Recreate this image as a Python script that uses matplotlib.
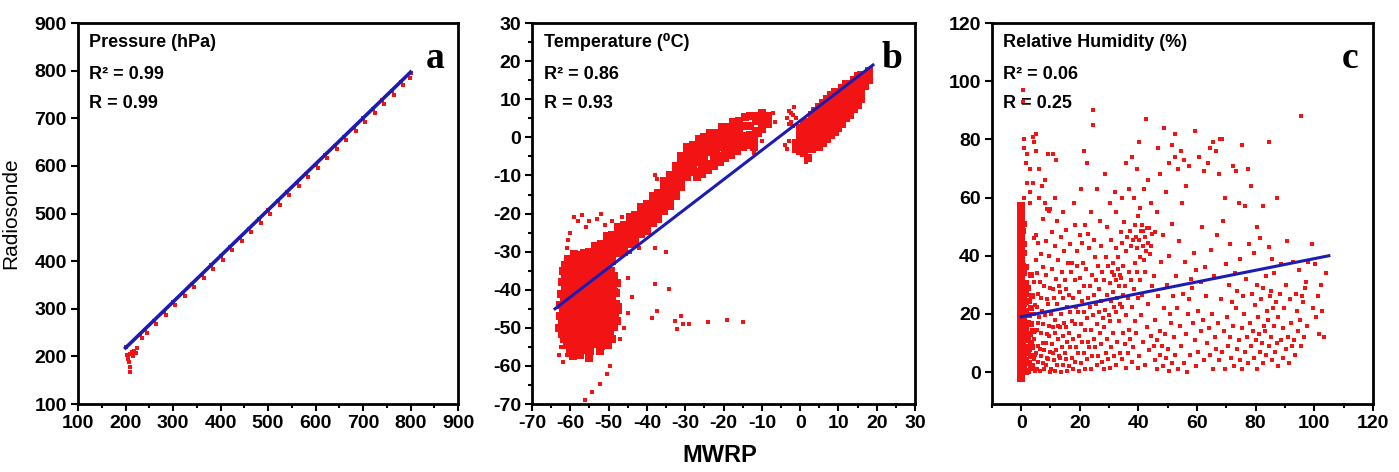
import numpy as np
import matplotlib
matplotlib.use("Agg")
import matplotlib.pyplot as plt
from matplotlib.ticker import MultipleLocator

plt.rcParams['font.family'] = ['Liberation Sans', 'DejaVu Sans']
plt.rcParams['font.weight'] = 'bold'
plt.rcParams['axes.unicode_minus'] = False

# ---- panel a: pressure (hPa), MWRP vs radiosonde
press_pts = [(200, 220), (203, 203), (205, 195), (207, 188), (209, 168), (210, 178),
             (206, 200), (210, 205), (213, 210), (216, 200), (218, 212), (222, 208),
             (225, 217), (230, 246), (235, 238),
             (240, 256), (245, 249), (260, 275), (265, 269), (280, 294), (285, 288),
             (300, 314), (305, 307), (320, 333), (325, 326), (340, 352), (345, 345),
             (360, 372), (365, 365), (380, 391), (385, 384), (400, 410), (405, 403),
             (420, 430), (425, 423), (440, 449), (445, 442), (460, 468), (465, 461),
             (480, 488), (485, 481), (500, 507), (505, 500), (520, 526), (525, 519),
             (540, 546), (545, 538), (560, 565), (565, 558), (580, 584), (585, 577),
             (600, 603), (605, 596), (620, 623), (625, 616), (640, 642), (645, 635),
             (660, 661), (665, 654), (680, 680), (685, 673), (700, 700), (705, 693),
             (720, 719), (725, 712), (740, 738), (745, 731), (760, 758), (765, 750),
             (780, 777), (785, 770), (800, 795), (798, 785)]
press_fit_x = [200, 800]
press_fit_y = [218, 797]

# ---- panel b: temperature (deg C)
temp_blob = [(-59, -30.5), (-57.2, -30.8), (-55.4, -30.3), (-53.6, -30.6),
             (-60.5, -32), (-58.7, -32.4), (-56.9, -31.8), (-55.1, -32.2), (-53.3, -32), (-51.5, -31.7),
             (-61.4, -33.5), (-59.6, -33.2), (-57.8, -33.8), (-56, -33.4), (-54.2, -33.6), (-52.4, -33.3), (-50.6, -33.7),
             (-62, -35), (-60.2, -35.3), (-58.4, -34.8), (-56.6, -35.2), (-54.8, -35), (-53, -34.7), (-51.2, -35.3), (-49.4, -35),
             (-61.3, -36.5), (-59.5, -36.8), (-57.7, -36.3), (-55.9, -36.6), (-54.1, -36.4), (-52.3, -36.8), (-50.5, -36.5), (-48.7, -36.3),
             (-62.2, -38), (-60.4, -37.7), (-58.6, -38.3), (-56.8, -38), (-55, -37.8), (-53.2, -38.2), (-51.4, -38), (-49.6, -37.7), (-47.8, -38.2),
             (-61.5, -39.5), (-59.7, -39.8), (-57.9, -39.3), (-56.1, -39.6), (-54.3, -39.5), (-52.5, -39.2), (-50.7, -39.7), (-48.9, -39.5),
             (-62.4, -41), (-60.6, -41.3), (-58.8, -40.8), (-57, -41.1), (-55.2, -41), (-53.4, -40.7), (-51.6, -41.2), (-49.8, -41), (-48, -40.8),
             (-61.7, -42.5), (-59.9, -42.2), (-58.1, -42.8), (-56.3, -42.5), (-54.5, -42.3), (-52.7, -42.7), (-50.9, -42.4), (-49.1, -42.6),
             (-62.6, -44), (-60.8, -44.3), (-59, -43.8), (-57.2, -44.1), (-55.4, -44), (-53.6, -43.7), (-51.8, -44.2), (-50, -44), (-48.2, -43.8),
             (-61.9, -45.5), (-60.1, -45.2), (-58.3, -45.8), (-56.5, -45.5), (-54.7, -45.3), (-52.9, -45.7), (-51.1, -45.4), (-49.3, -45.6), (-47.5, -45.3),
             (-62.8, -47), (-61, -47.3), (-59.2, -46.8), (-57.4, -47.1), (-55.6, -47), (-53.8, -46.7), (-52, -47.2), (-50.2, -47), (-48.4, -46.8),
             (-62.1, -48.5), (-60.3, -48.2), (-58.5, -48.8), (-56.7, -48.5), (-54.9, -48.3), (-53.1, -48.7), (-51.3, -48.4), (-49.5, -48.6), (-47.7, -48.3),
             (-63, -50), (-61.2, -50.3), (-59.4, -49.8), (-57.6, -50.1), (-55.8, -50), (-54, -49.7), (-52.2, -50.2), (-50.4, -50), (-48.6, -49.8),
             (-62.3, -51.5), (-60.5, -51.2), (-58.7, -51.8), (-56.9, -51.5), (-55.1, -51.3), (-53.3, -51.7), (-51.5, -51.4), (-49.7, -51.6),
             (-61.6, -53), (-59.8, -53.3), (-58, -52.8), (-56.2, -53.1), (-54.4, -53), (-52.6, -52.7), (-50.8, -53.2), (-49, -53),
             (-60.9, -54.5), (-59.1, -54.2), (-57.3, -54.8), (-55.5, -54.5), (-53.7, -54.3), (-51.9, -54.7), (-50.1, -54.4),
             (-60.2, -56), (-58.4, -56.3), (-56.6, -55.8), (-54.8, -56.1), (-52.2, -56),
             (-59.3, -57.5), (-57.5, -57.2), (-55.2, -57.8)]
temp_band = [(-58, -38.5), (-58, -37), (-58, -35.5), (-58, -34), (-58, -32.5),
             (-56.5, -36.4), (-56.5, -34.9), (-56.5, -33.4), (-56.5, -31.9), (-56.5, -30.4),
             (-55, -36), (-55, -34.5), (-55, -33), (-55, -31.5), (-55, -30),
             (-53.5, -34.4), (-53.5, -32.9), (-53.5, -31.4), (-53.5, -29.9), (-53.5, -28.4),
             (-52, -34), (-52, -32.5), (-52, -31), (-52, -29.5), (-52, -28),
             (-50.5, -32.9), (-50.5, -31.2), (-50.5, -29.4), (-50.5, -27.7), (-50.5, -25.9),
             (-49, -32.5), (-49, -30.7), (-49, -29), (-49, -27.3), (-49, -25.5),
             (-47.5, -30.4), (-47.5, -28.7), (-47.5, -26.9), (-47.5, -25.2), (-47.5, -23.4),
             (-46, -30), (-46, -28.2), (-46, -26.5), (-46, -24.8), (-46, -23),
             (-44.5, -27.9), (-44.5, -26.2), (-44.5, -24.4), (-44.5, -22.7), (-44.5, -20.9),
             (-43, -27.5), (-43, -25.7), (-43, -24), (-43, -22.3), (-43, -20.5),
             (-41.5, -25.4), (-41.5, -23.7), (-41.5, -21.9), (-41.5, -20.2), (-41.5, -18.4),
             (-40, -24.5), (-40, -22.7), (-40, -21), (-40, -19.3), (-40, -17.5),
             (-38.5, -22.4), (-38.5, -20.7), (-38.5, -18.9), (-38.5, -17.2), (-38.5, -15.4),
             (-37, -21.5), (-37, -19.7), (-37, -18), (-37, -16.3), (-37, -14.5),
             (-35.5, -19.4), (-35.5, -17.4), (-35.5, -15.4), (-35.5, -13.4), (-35.5, -11.4),
             (-34, -18), (-34, -16), (-34, -14), (-34, -12), (-34, -10),
             (-32.5, -15.4), (-32.5, -13.4), (-32.5, -11.4), (-32.5, -9.4), (-32.5, -7.4),
             (-31, -13), (-31, -11), (-31, -9), (-31, -7), (-31, -5),
             (-29.5, -10.4), (-29.5, -8.4), (-29.5, -6.4), (-29.5, -4.4), (-29.5, -2.4),
             (-28, -9), (-28, -7.2), (-28, -5.5), (-28, -3.8), (-28, -2),
             (-26.5, -6.4), (-26.5, -4.9), (-26.5, -3.4), (-26.5, -1.9), (-26.5, -0.4),
             (-25, -6), (-25, -4.5), (-25, -3), (-25, -1.5), (-25, 0),
             (-23.5, -3.9), (-23.5, -2.6), (-23.5, -1.4), (-23.5, -0.1), (-23.5, 1.1),
             (-22, -3.8), (-22, -2.5), (-22, -1.3), (-22, 0), (-22, 1.2),
             (-20.5, -2.4), (-20.5, -1.1), (-20.5, 0.1), (-20.5, 1.4), (-20.5, 2.6),
             (-19, -2.2), (-19, -0.9), (-19, 0.3), (-19, 1.6), (-19, 2.8),
             (-17.5, -0.9), (-17.5, 0.4), (-17.5, 1.6), (-17.5, 2.9), (-17.5, 4.1),
             (-16, -0.8), (-16, 0.5), (-16, 1.7), (-16, 3), (-16, 4.2),
             (-14.5, 0.4), (-14.5, 2.9), (-14.5, 5.4),
             (-13, 0.5), (-13, 3), (-13, 5.5),
             (-11.5, 1.8), (-11.5, 4.3), (-11.5, 5.6),
             (-10, 2.3), (-10, 4.3), (-10, 6.3), (-8.5, 3.6), (-8.5, 5.6)]
temp_lower = [(-27, -10.5), (-27, -9), (-25.5, -9.5), (-25.5, -8), (-24, -8.5), (-24, -7),
              (-22.5, -7.5), (-22.5, -6), (-21, -6.5), (-21, -5), (-19.5, -5.5), (-19.5, -4),
              (-18, -4.5), (-18, -3), (-16.5, -3.5), (-16.5, -2.2), (-15, -2.5), (-15, -1.3),
              (-13.5, -2), (-13.5, -0.5), (-12, -2.5), (-12, -1), (-12, 0.5)]
temp_warm = [(-1, -3), (-1, -1.5),
             (0, -3.5), (0, -2), (0, -0.5), (0, 1), (0, 2.5),
             (1, -4), (1, -2.5), (1, -1), (1, 0.5), (1, 2), (1, 3.5),
             (2, -5.5), (2, -2), (2, -0.5), (2, 1), (2, 2.5), (2, 4),
             (3, -3), (3, -1.5), (3, 0), (3, 1.5), (3, 3), (3, 4.5), (3, 6),
             (4, -2), (4, -0.5), (4, 1), (4, 2.5), (4, 4), (4, 5.5), (4, 7),
             (5, -1), (5, 0.5), (5, 2), (5, 3.5), (5, 5), (5, 6.5), (5, 8),
             (6, 0), (6, 1.5), (6, 3), (6, 4.5), (6, 6), (6, 7.5), (6, 9),
             (7, 1), (7, 2.5), (7, 4), (7, 5.5), (7, 7), (7, 8.5), (7, 10),
             (8, 2), (8, 3.5), (8, 5), (8, 6.5), (8, 8), (8, 9.5), (8, 11),
             (9, 3), (9, 4.5), (9, 6), (9, 7.5), (9, 9), (9, 10.5), (9, 12),
             (10, 4.5), (10, 6), (10, 7.5), (10, 9), (10, 10.5), (10, 12),
             (11, 5.5), (11, 7), (11, 8.5), (11, 10), (11, 11.5), (11, 13),
             (12, 7), (12, 8.5), (12, 10), (12, 11.5), (12, 13), (12, 14),
             (13, 8), (13, 9.5), (13, 11), (13, 12.5), (13, 14),
             (14, 9.5), (14, 11), (14, 12.5), (14, 14), (14, 15),
             (15, 10.5), (15, 12), (15, 13.5), (15, 15), (15, 16),
             (16, 12), (16, 13.5), (16, 15), (16, 16.5),
             (17, 13.5), (17, 15), (17, 16.5), (18, 15), (18, 16.5), (18, 17.5),
             (10, 2.5), (11, 3.5), (12, 5), (13, 6), (14, 7.5), (15, 8.5), (16, 10),
             (9, 1.5), (8, 0.5), (7, -0.5), (6, -1.5), (5, -2.5)]
temp_scatter = [(-3.5, 5), (-3, 7), (-2.5, 4), (-2, 6), (-1.5, 8), (-1, 5), (-3, 3.5), (-2, 3),
                (-2.5, 6.5), (-4, -2), (-3.5, -3), (-3, -1), (-8, 6), (-9, 4.5), (-7, 6.5),
                (-6.5, 4), (-10.5, 0.5), (-10, -1), (-12, -4), (1.5, -6.5),
                (-59, -21), (-58, -22), (-57, -20.5), (-55, -22), (-53, -21.5), (-52, -20),
                (-56, -23.5), (-60, -25), (-60.5, -27), (-61, -29), (-59.5, -31), (-51, -23),
                (-49, -22), (-46.5, -21), (-44.5, -30), (-45, -37), (-44, -42), (-45, -46),
                (-46, -50), (-47, -53), (-38, -10), (-37.5, -11), (-35, -30), (-38, -29),
                (-42, -29), (-48, -40), (-47, -44),
                (-49.6, -60), (-50.4, -62), (-52.2, -64.7), (-54.3, -66.8), (-56.2, -69),
                (-37.9, -38.4), (-34.2, -39.7), (-37.4, -45.5), (-38.7, -47.4), (-32.7, -48.2),
                (-32.1, -50.3), (-31, -47), (-30.5, -49), (-29, -49), (-24, -48.5), (-19, -48),
                (-15, -48.5), (-62.5, -55), (-63, -57), (-61, -57), (-62, -59)]
temp_fit_x = [-64, 19]
temp_fit_y = [-45, 19]

# ---- panel c: relative humidity (%)
rh_at_zero = [-2, 0, 1.5, 3, 4.5, 6, 7.5, 9, 10.5, 12, 13.5, 15, 16.5, 18, 19.5, 21, 22.5,
              24, 25.5, 27, 28.5, 30, 31.5, 33, 34.5, 36, 37.5, 39, 40.5, 42, 43.5, 45,
              46.5, 48, 49.5, 51, 52.5, 54, 55.5, 57]
rh_near_zero = [(0.8, 1), (0.7, 2.5), (0.9, 5.5), (0.8, 6.5), (0.7, 9), (0.9, 12), (0.8, 13),
                (0.7, 15.5), (0.9, 18), (0.8, 19), (0.7, 22), (0.9, 23.5), (0.8, 25),
                (0.7, 28.5), (0.9, 30), (0.8, 34), (0.7, 36.5), (0.9, 41), (0.8, 44),
                (0.7, 48.5), (0.9, 51),
                (1.6, 0), (1.7, 3), (1.5, 4), (1.6, 7.5), (1.7, 8.5), (1.5, 11), (1.6, 12.5),
                (1.7, 15), (1.5, 17), (1.6, 19.5), (1.7, 21), (1.5, 24), (1.6, 27),
                (1.7, 30.5), (1.5, 36),
                (2.3, 0.5), (2.8, 3), (2.2, 6.5), (2.7, 8), (2.4, 11.5), (2.9, 13), (2.3, 17),
                (2.6, 19.5), (2.8, 24.5), (2.2, 29),
                (3.3, 1.5), (3.8, 2), (3.4, 5.5), (3.7, 8.5), (3.2, 10), (3.9, 14), (3.5, 16.5),
                (3.3, 22), (3.8, 26), (3.4, 33.5)]
rh_pts = [(4.6, 0.5), (4.2, 4.5), (4.8, 6), (4.4, 11.5), (4.7, 14), (4.3, 20), (4.6, 23),
          (4.2, 31), (4.9, 38.5), (4.4, 46),
          (5.4, 1), (5.8, 3.5), (5.2, 6.5), (5.7, 9), (5.3, 14.5), (5.6, 17), (5.4, 22.5),
          (5.9, 27), (5.3, 34), (5.6, 44.5), (5.2, 47),
          (6.3, 0.5), (6.8, 5.5), (6.4, 8), (6.7, 13.5), (6.2, 19), (6.9, 25.5), (6.4, 31),
          (6.6, 40.5),
          (7.7, 1), (7.3, 3), (7.8, 7.5), (7.4, 10), (7.6, 16.5), (7.2, 21), (7.9, 29.5),
          (7.3, 36), (7.6, 52.5),
          (8.3, 2.5), (8.8, 5), (8.4, 10), (8.7, 13), (8.2, 19.5), (8.9, 25), (8.5, 33.5),
          (8.3, 45), (8.7, 56),
          (9.7, 0), (9.3, 4.5), (9.8, 7), (9.4, 12.5), (9.6, 16), (9.2, 23.5), (9.9, 29),
          (9.4, 40), (9.6, 55.5),
          (10.3, 1), (10.8, 6.5), (10.4, 9.5), (10.7, 15.5), (10.2, 20), (10.9, 28.5),
          (10.4, 35.5), (10.6, 48),
          (11.7, 0.5), (11.3, 4), (11.8, 7.5), (11.4, 13.5), (11.6, 18), (11.2, 25.5),
          (11.9, 32), (11.4, 43.5), (11.6, 60),
          (12.3, 2.5), (12.8, 5.5), (12.4, 11.5), (12.7, 16), (12.2, 23.5), (12.9, 29.5),
          (12.5, 38.5), (12.3, 52),
          (13.7, 0), (13.3, 5), (13.8, 8.5), (13.4, 15.5), (13.6, 20), (13.2, 27.5),
          (13.9, 34.5), (13.5, 46.5),
          (14.3, 2.5), (14.8, 6.5), (14.4, 12.5), (14.7, 17), (14.2, 25.5), (14.9, 31.5),
          (14.5, 41.5), (14.3, 55),
          (15.7, 0.5), (15.3, 4.5), (15.8, 10.5), (15.4, 15.5), (15.6, 22.5), (15.2, 28.5),
          (15.9, 37.5), (15.4, 49),
          (16.3, 2), (16.8, 8.5), (16.4, 13.5), (16.7, 20.5), (16.2, 26.5), (16.9, 34.5),
          (16.5, 44),
          (17.7, 1), (17.3, 5), (17.8, 11.5), (17.4, 17.5), (17.6, 25.5), (17.2, 37.5),
          (17.9, 58),
          (18.3, 3.5), (18.8, 8.5), (18.4, 16.5), (18.7, 22.5), (18.2, 31.5), (18.9, 41.5),
          (18.5, 50.5),
          (19.7, 0.5), (19.3, 6.5), (19.8, 12.5), (19.4, 20.5), (19.6, 27.5), (19.2, 36.5),
          (19.9, 47),
          (20.3, 3), (20.8, 10.5), (20.4, 16.5), (20.7, 24.5), (20.2, 32.5), (20.9, 44.5),
          (20.5, 63),
          (21.7, 1), (21.3, 6.5), (21.8, 14.5), (21.4, 20.5), (21.6, 29.5), (21.2, 37.5),
          (21.9, 50.5), (21.5, 76),
          (22.3, 4.5), (22.8, 10.5), (22.4, 18.5), (22.7, 25.5), (22.2, 35.5), (22.9, 47.5),
          (22.5, 72),
          (23.7, 1), (23.3, 8.5), (23.8, 14.5), (23.4, 22.5), (23.6, 29.5), (23.2, 42.5),
          (23.9, 55),
          (24.3, 5.5), (24.8, 11.5), (24.4, 19.5), (24.7, 26.5), (24.2, 33.5), (24.9, 45.5),
          (24.5, 85), (24.6, 90),
          (25.7, 2.5), (25.3, 8.5), (25.8, 16.5), (25.4, 23.5), (25.6, 31.5), (25.2, 39.5),
          (25.9, 63),
          (26.3, 5.5), (26.8, 13.5), (26.4, 20.5), (26.7, 28.5), (26.2, 36.5), (26.9, 52),
          (27.7, 3.5), (27.3, 9.5), (27.8, 18.5), (27.4, 24.5), (27.6, 34.5), (27.2, 43.5),
          (28.3, 1), (28.8, 6.5), (28.4, 15.5), (28.7, 21.5), (28.2, 31.5), (28.9, 39.5),
          (28.5, 68),
          (29.7, 4.5), (29.3, 11.5), (29.8, 19.5), (29.4, 26.5), (29.6, 36.5), (29.2, 50),
          (30.3, 1.5), (30.8, 8.5), (30.4, 17.5), (30.7, 24.5), (30.2, 30.5), (30.9, 34.5),
          (30.5, 45.5), (30.3, 58),
          (31.7, 5.5), (31.3, 13.5), (31.8, 22.5), (31.4, 27.5), (31.6, 33.5), (31.2, 37.5),
          (31.9, 62),
          (32.3, 2.5), (32.8, 10.5), (32.4, 20.5), (32.7, 25.5), (32.2, 31.5), (32.9, 35.5),
          (32.5, 42.5), (32.3, 55),
          (33.7, 6.5), (33.3, 17.5), (33.8, 23.5), (33.4, 29.5), (33.6, 33.5), (33.2, 39.5),
          (33.9, 48),
          (34.3, 4.5), (34.8, 13.5), (34.4, 22.5), (34.7, 26.5), (34.2, 32.5), (34.9, 36.5),
          (34.5, 44.5), (34.3, 60),
          (35.7, 1.5), (35.3, 9.5), (35.8, 19.5), (35.4, 29.5), (35.6, 41.5), (35.2, 51.5),
          (35.9, 72),
          (36.3, 6.5), (36.8, 14.5), (36.4, 25.5), (36.7, 34.5), (36.2, 46.5), (36.9, 63),
          (37.7, 3.5), (37.3, 11.5), (37.8, 22.5), (37.4, 31.5), (37.6, 43.5), (37.2, 48.5),
          (37.9, 74),
          (38.3, 8.5), (38.8, 17.5), (38.4, 28.5), (38.7, 37.5), (38.2, 45.5), (38.9, 50.5),
          (38.5, 60),
          (39.7, 1.5), (39.3, 13.5), (39.8, 25.5), (39.4, 34.5), (39.6, 42.5), (39.2, 46.5),
          (39.9, 53.5), (39.5, 70),
          (40.3, 5.5), (40.8, 19.5), (40.4, 31.5), (40.7, 39.5), (40.2, 45.5), (40.9, 48.5),
          (40.5, 56.5), (40.3, 79),
          (41.7, 10.5), (41.3, 26.5), (41.8, 38.5), (41.4, 43.5), (41.6, 48.5), (41.2, 50.5),
          (41.9, 63),
          (42.3, 2.5), (42.8, 15.5), (42.4, 34.5), (42.7, 41.5), (42.2, 46.5), (42.9, 49.5),
          (42.5, 87),
          (43.7, 7.5), (43.3, 23.5), (43.8, 40.5), (43.4, 44.5), (43.6, 49.5), (43.2, 66),
          (44.3, 12.5), (44.8, 29.5), (44.4, 43.5), (44.7, 47.5), (44.2, 58),
          (45.5, 4), (45.2, 9), (45.8, 18), (45.4, 33), (45.6, 48),
          (46.5, 1), (46.2, 11), (46.8, 26), (46.4, 55), (46.6, 77),
          (47.5, 6), (47.2, 14), (47.8, 38), (47.4, 68),
          (48.5, 2), (48.2, 9), (48.8, 22), (48.4, 47), (48.6, 84),
          (49.5, 5), (49.2, 13), (49.8, 30), (49.4, 62),
          (50.5, 0.5), (50.2, 8), (50.8, 20), (50.4, 40), (50.6, 72),
          (51.5, 3), (51.2, 17), (51.8, 26), (51.4, 51), (51.6, 78),
          (52.5, 6), (52.2, 12), (52.8, 33), (52.4, 74), (52.6, 82),
          (53.5, 1), (53.2, 22), (53.8, 45), (53.4, 70),
          (54.5, 9), (54.2, 16), (54.8, 58), (54.4, 76),
          (55.5, 3), (55.2, 27), (55.8, 38), (55.4, 73),
          (56.5, 0), (56.2, 13), (56.8, 20), (56.4, 64),
          (57.5, 6), (57.2, 25), (57.8, 32), (57.4, 71),
          (58.5, 17), (58.2, 29), (58.8, 41),
          (59.5, 2), (59.2, 11), (59.8, 35), (59.4, 83),
          (60.5, 7), (60.2, 21), (60.8, 74),
          (61.5, 14), (61.2, 31), (61.8, 50),
          (62.5, 4), (62.2, 18), (62.8, 36), (62.4, 69),
          (63.5, 10), (63.2, 26), (63.8, 72),
          (64.5, 6), (64.2, 15), (64.8, 42), (64.4, 77),
          (65.5, 1), (65.2, 20), (65.8, 33), (65.4, 79),
          (66.5, 8), (66.2, 12), (66.8, 47), (66.4, 76),
          (67.5, 4), (67.2, 17), (67.8, 80), (67.4, 68),
          (68.5, 7), (68.2, 25), (68.8, 52), (68.4, 80),
          (69.5, 1), (69.2, 14), (69.8, 37), (69.4, 60),
          (70.5, 9), (70.2, 19), (70.8, 30),
          (71.5, 5), (71.2, 12), (71.8, 24), (71.4, 44),
          (72.5, 2), (72.2, 16), (72.8, 34), (72.4, 71),
          (73.5, 8), (73.2, 22), (73.8, 28), (73.4, 69),
          (74.5, 4), (74.2, 11), (74.8, 39), (74.4, 58),
          (75.5, 1), (75.2, 15), (75.8, 26), (75.4, 78),
          (76.5, 7), (76.2, 20), (76.8, 32), (76.4, 57),
          (77.5, 3), (77.2, 12), (77.8, 44), (77.4, 70),
          (78.5, 9), (78.2, 17), (78.8, 27), (78.4, 64),
          (79.5, 5), (79.2, 14), (79.8, 23), (79.4, 41),
          (80.5, 1), (80.2, 11), (80.8, 19), (80.4, 30), (80.6, 50),
          (81.5, 7), (81.2, 13), (81.8, 25), (81.4, 46),
          (82.5, 3), (82.2, 10), (82.8, 16), (82.4, 29), (82.6, 57),
          (83.5, 6), (83.2, 14), (83.8, 21), (83.4, 33),
          (84.5, 9), (84.2, 18), (84.8, 26), (84.4, 43), (84.6, 79),
          (85.5, 4), (85.2, 12), (85.8, 22), (85.4, 28), (85.6, 39),
          (86.5, 7), (86.2, 16), (86.8, 24), (86.4, 34),
          (87.5, 2), (87.2, 10), (87.8, 19), (87.4, 60),
          (88.5, 11), (88.2, 27), (88.8, 37),
          (89.5, 5), (89.2, 15), (89.8, 22),
          (90.5, 8), (90.2, 30), (90.8, 45),
          (91.5, 3), (91.2, 12), (91.8, 25),
          (92.5, 9), (92.2, 17), (92.8, 38),
          (93.5, 6), (93.2, 11), (93.8, 27),
          (94.5, 14), (94.2, 21), (94.8, 35),
          (95.5, 9), (95.2, 18), (95.8, 26), (95.4, 88),
          (96.5, 12), (96.2, 24), (96.8, 29),
          (97.5, 16), (97.2, 31), (97.8, 38),
          (99.5, 22), (99.2, 44), (100.5, 19), (100.2, 37),
          (101.5, 13), (101.2, 26), (102.5, 21), (102.2, 30),
          (103.5, 12), (104, 34),
          (0.5, 97), (0.5, 93), (1, 80), (1, 77), (2, 75), (1.5, 72), (3, 70), (4, 81),
          (4.5, 79), (5, 76), (6, 70), (7, 64), (9, 75), (11, 75), (12, 73), (2, 65),
          (3, 62), (1, 60), (6, 60), (8, 58), (10, 56), (3, 58), (4, 65), (5, 82), (8, 66)]
rh_fit_x = [0, 105]
rh_fit_y = [19, 40]

red = '#f21414'
blue = '#1c1cb4'
dense = 26
sparse = 10

fig = plt.figure(figsize=(13.99, 4.72), dpi=100)
ax_a = fig.add_axes([0.0558, 0.144, 0.2716, 0.807])
ax_b = fig.add_axes([0.3803, 0.144, 0.2738, 0.807])
ax_c = fig.add_axes([0.709, 0.144, 0.2723, 0.807])

pa = np.array(press_pts)
ax_a.scatter(pa[:, 0], pa[:, 1], s=12, marker='s', color=red, linewidths=0)
ax_a.plot(press_fit_x, press_fit_y, color=blue, lw=2.6, zorder=3)

pb = np.array(temp_blob + temp_band + temp_lower + temp_warm)
ax_b.scatter(pb[:, 0], pb[:, 1], s=dense, marker='s', color=red, linewidths=0)
ps = np.array(temp_scatter)
ax_b.scatter(ps[:, 0], ps[:, 1], s=sparse, marker='s', color=red, linewidths=0)
ax_b.plot(temp_fit_x, temp_fit_y, color=blue, lw=2.2, zorder=3)

pz = np.array(rh_near_zero)
ax_c.scatter(np.zeros(len(rh_at_zero)), rh_at_zero, s=dense, marker='s', color=red, linewidths=0)
ax_c.scatter(pz[:, 0], pz[:, 1], s=20, marker='s', color=red, linewidths=0)
pc = np.array(rh_pts)
ax_c.scatter(pc[:, 0], pc[:, 1], s=sparse, marker='s', color=red, linewidths=0)
ax_c.plot(rh_fit_x, rh_fit_y, color=blue, lw=2.2, zorder=3)

ax_a.set_xlim(100, 900)
ax_a.set_ylim(100, 900)
ax_a.xaxis.set_major_locator(MultipleLocator(100))
ax_a.xaxis.set_minor_locator(MultipleLocator(50))
ax_a.yaxis.set_major_locator(MultipleLocator(100))

ax_b.set_xlim(-70, 30)
ax_b.set_ylim(-70, 30)
for axis in (ax_b.xaxis, ax_b.yaxis):
    axis.set_major_locator(MultipleLocator(10))
    axis.set_minor_locator(MultipleLocator(5))

ax_c.set_xlim(-10, 120)
ax_c.set_ylim(-11, 120)
ax_c.xaxis.set_major_locator(MultipleLocator(20))
ax_c.xaxis.set_minor_locator(MultipleLocator(10))
ax_c.yaxis.set_major_locator(MultipleLocator(20))

titles = ['Pressure (hPa)', 'Temperature (\u2070C)', 'Relative Humidity (%)']
r2_text = ['R\u00b2 = 0.99', 'R\u00b2 = 0.86', 'R\u00b2 = 0.06']
r_text = ['R = 0.99', 'R = 0.93', 'R = 0.25']
letters = ['a', 'b', 'c']

for i, ax in enumerate([ax_a, ax_b, ax_c]):
    for sp in ax.spines.values():
        sp.set_linewidth(2)
    ax.tick_params(which='major', direction='out', length=5, width=1.5, labelsize=14, pad=3)
    ax.tick_params(which='minor', direction='out', length=3, width=1.5)
    ax.text(0.03, 0.95, titles[i], transform=ax.transAxes, fontsize=13, va='center')
    ax.text(0.03, 0.865, r2_text[i], transform=ax.transAxes, fontsize=13, va='center')
    ax.text(0.03, 0.79, r_text[i], transform=ax.transAxes, fontsize=13, va='center')
    ax.text(0.94, 0.882, letters[i], transform=ax.transAxes, fontsize=27,
            family='Liberation Serif', fontweight='bold', ha='center', va='baseline')

ax_a.set_ylabel('Radiosonde', fontsize=15)
ax_a.yaxis.set_label_coords(-0.153, 0.5)
fig.text(0.5147, 0.036, 'MWRP', fontsize=17, ha='center', va='center')

fig.savefig('out.png', dpi=100)
